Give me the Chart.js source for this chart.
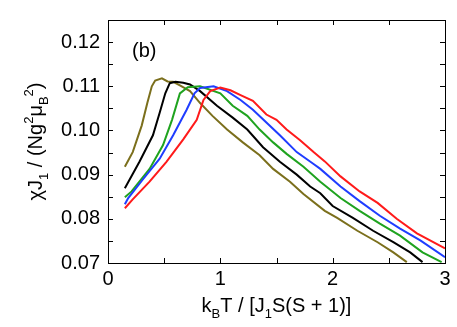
<!DOCTYPE html>
<html lang="en">
<head>
    <meta charset="UTF-8">
    <title>chi J1 vs kBT</title>
    <script src="https://cdn.jsdelivr.net/npm/chart.js"></script>
    <style>
        body {
            margin: 0;
            padding: 0;
            background-color: #fff;
        }
        #wrap {
            width: 457px;
            height: 327px;
        }
    </style>
</head>
<body>
    <div id="wrap"><canvas id="myChart" width="457" height="327"></canvas></div>

    <script>
        // series data (x = kBT / [J1 S(S+1)], y = chi J1 / (N g^2 muB^2))
        const oliveX = [0.15, 0.22, 0.30, 0.35, 0.39, 0.42, 0.48, 0.53, 0.58, 0.64, 0.73, 0.82, 0.93, 1.06, 1.20, 1.35, 1.47, 1.62, 1.74, 1.93, 2.04, 2.22, 2.40, 2.54, 2.66];
        const oliveY = [0.0918, 0.0951, 0.1011, 0.1062, 0.1100, 0.1113, 0.1118, 0.1111, 0.1110, 0.1102, 0.1089, 0.1062, 0.1033, 0.1002, 0.0973, 0.0944, 0.0913, 0.0884, 0.0856, 0.0818, 0.0802, 0.0773, 0.0747, 0.0724, 0.0702];

        const blackX = [0.15, 0.28, 0.40, 0.46, 0.51, 0.55, 0.60, 0.67, 0.73, 0.82, 0.97, 1.11, 1.24, 1.38, 1.53, 1.68, 1.80, 1.89, 2.00, 2.18, 2.36, 2.54, 2.69, 2.80];
        const blackY = [0.0869, 0.0929, 0.0989, 0.1040, 0.1084, 0.1107, 0.1110, 0.1108, 0.1104, 0.1089, 0.1056, 0.1029, 0.1002, 0.0962, 0.0929, 0.0900, 0.0873, 0.0858, 0.0829, 0.0802, 0.0773, 0.0747, 0.0724, 0.0702];

        const greenX = [0.15, 0.21, 0.37, 0.49, 0.57, 0.64, 0.71, 0.82, 1.00, 1.11, 1.24, 1.35, 1.47, 1.59, 1.74, 1.89, 2.07, 2.24, 2.42, 2.60, 2.80, 2.97];
        const greenY = [0.0849, 0.0862, 0.0913, 0.0967, 0.1024, 0.1084, 0.1098, 0.1100, 0.1084, 0.1056, 0.1033, 0.1002, 0.0973, 0.0947, 0.0918, 0.0884, 0.0847, 0.0818, 0.0789, 0.0762, 0.0724, 0.0702];

        const blueX = [0.15, 0.18, 0.31, 0.46, 0.58, 0.70, 0.77, 0.82, 0.94, 1.06, 1.18, 1.29, 1.41, 1.53, 1.68, 1.83, 1.89, 2.07, 2.24, 2.42, 2.60, 2.78, 3.00];
        const blueY = [0.0833, 0.0847, 0.0889, 0.0936, 0.0989, 0.1047, 0.1084, 0.1096, 0.1100, 0.1089, 0.1069, 0.1047, 0.1018, 0.0989, 0.0951, 0.0924, 0.0913, 0.0873, 0.0840, 0.0807, 0.0778, 0.0751, 0.0713];

        const redX = [0.15, 0.22, 0.37, 0.52, 0.67, 0.79, 0.85, 0.91, 1.00, 1.09, 1.18, 1.29, 1.41, 1.50, 1.59, 1.71, 1.83, 1.93, 2.07, 2.24, 2.40, 2.57, 2.75, 3.00];
        const redY = [0.0824, 0.0844, 0.0884, 0.0929, 0.0980, 0.1024, 0.1069, 0.1089, 0.1097, 0.1091, 0.1080, 0.1067, 0.1036, 0.1024, 0.1002, 0.0978, 0.0951, 0.0930, 0.0896, 0.0862, 0.0836, 0.0800, 0.0767, 0.0733];

        const xTicks = [0, 1, 2, 3];
        const yTicks = [0.07, 0.08, 0.09, 0.10, 0.11, 0.12];

        const FONT = "'Liberation Sans', Arial, sans-serif";

        function toPoints(xs, ys) {
            return xs.map((x, i) => ({ x: x, y: ys[i] }));
        }

        function lineSet(xs, ys, color) {
            return {
                data: toPoints(xs, ys),
                borderColor: color,
                borderWidth: 2,
                pointRadius: 0,
                fill: false,
                tension: 0
            };
        }

        // draws a run of text with sub/superscript pieces, returns width
        function drawRich(ctx, parts, x, y, size, measureOnly) {
            let cx = x;
            parts.forEach(p => {
                const s = p.t === 'n' ? size : Math.round(size * 0.65);
                ctx.font = s + 'px ' + FONT;
                let dy = 0;
                if (p.t === 'sub') dy = size * 0.3;
                if (p.t === 'sup') dy = -size * 0.45;
                if (!measureOnly) ctx.fillText(p.s, cx, y + dy);
                cx += ctx.measureText(p.s).width;
            });
            return cx - x;
        }

        const xTitle = [
            { t: 'n', s: 'k' }, { t: 'sub', s: 'B' }, { t: 'n', s: 'T / [J' },
            { t: 'sub', s: '1' }, { t: 'n', s: 'S(S + 1)]' }
        ];
        const yTitle = [
            { t: 'n', s: 'χJ' }, { t: 'sub', s: '1' }, { t: 'n', s: ' / (Ng' },
            { t: 'sup', s: '2' }, { t: 'n', s: 'μ' }, { t: 'sub', s: 'B' },
            { t: 'sup', s: '2' }, { t: 'n', s: ')' }
        ];

        const framePlugin = {
            id: 'frame',
            afterDraw(chart) {
                const ctx = chart.ctx;
                const a = chart.chartArea;
                const xs = chart.scales.x;
                const ys = chart.scales.y;
                ctx.save();
                ctx.strokeStyle = '#000';
                ctx.lineWidth = 1;
                ctx.strokeRect(a.left + 0.5, a.top + 0.5, a.right - a.left, a.bottom - a.top);

                const tl = 5;
                ctx.beginPath();
                for (let v = 0; v <= 3.001; v += 0.5) {
                    const px = Math.round(xs.getPixelForValue(v)) + 0.5;
                    ctx.moveTo(px, a.bottom); ctx.lineTo(px, a.bottom - tl);
                    ctx.moveTo(px, a.top); ctx.lineTo(px, a.top + tl);
                }
                for (let k = 0; k <= 11; k++) {
                    const v = 0.07 + k * 0.005;
                    const py = Math.round(ys.getPixelForValue(v)) + 0.5;
                    ctx.moveTo(a.left, py); ctx.lineTo(a.left + tl, py);
                    ctx.moveTo(a.right, py); ctx.lineTo(a.right - tl, py);
                }
                ctx.stroke();

                ctx.fillStyle = '#000';
                ctx.textBaseline = 'alphabetic';
                ctx.textAlign = 'left';

                // x axis title
                const wx = drawRich(ctx, xTitle, 0, 0, 20, true);
                drawRich(ctx, xTitle, (a.left + a.right) / 2 - wx / 2, 312, 20, false);

                // y axis title (rotated)
                const wy = drawRich(ctx, yTitle, 0, 0, 20, true);
                ctx.translate(42, (a.top + a.bottom) / 2);
                ctx.rotate(-Math.PI / 2);
                drawRich(ctx, yTitle, -wy / 2, 0, 20, false);
                ctx.setTransform(1, 0, 0, 1, 0, 0);

                // panel label
                ctx.font = '20px ' + FONT;
                ctx.fillText('(b)', 132, 57);
                ctx.restore();
            }
        };

        const ctx = document.getElementById('myChart').getContext('2d');
        new Chart(ctx, {
            type: 'line',
            data: {
                datasets: [
                    lineSet(redX, redY, '#ff1a1a'),
                    lineSet(blueX, blueY, '#1f3dff'),
                    lineSet(greenX, greenY, '#1fa31f'),
                    lineSet(blackX, blackY, '#000000'),
                    lineSet(oliveX, oliveY, '#7b6f1c')
                ]
            },
            options: {
                responsive: false,
                animation: false,
                layout: { padding: { left: 0, right: 12, top: 15, bottom: 0 } },
                plugins: {
                    legend: { display: false },
                    tooltip: { enabled: false }
                },
                scales: {
                    x: {
                        type: 'linear',
                        min: 0,
                        max: 3,
                        afterBuildTicks: scale => {
                            scale.ticks = xTicks.map(v => ({ value: v }));
                        },
                        afterFit: scale => { scale.height = 64; },
                        grid: { display: false, drawTicks: false },
                        border: { display: false },
                        ticks: {
                            color: '#000',
                            padding: 4,
                            font: { size: 20, family: FONT },
                            callback: v => String(v)
                        }
                    },
                    y: {
                        type: 'linear',
                        min: 0.07,
                        max: 0.125,
                        afterBuildTicks: scale => {
                            scale.ticks = yTicks.map(v => ({ value: v }));
                        },
                        afterFit: scale => { scale.width = 108; },
                        grid: { display: false, drawTicks: false },
                        border: { display: false },
                        ticks: {
                            color: '#000',
                            padding: 8,
                            font: { size: 20, family: FONT },
                            callback: v => v.toFixed(2)
                        }
                    }
                }
            },
            plugins: [framePlugin]
        });
    </script>
</body>
</html>
